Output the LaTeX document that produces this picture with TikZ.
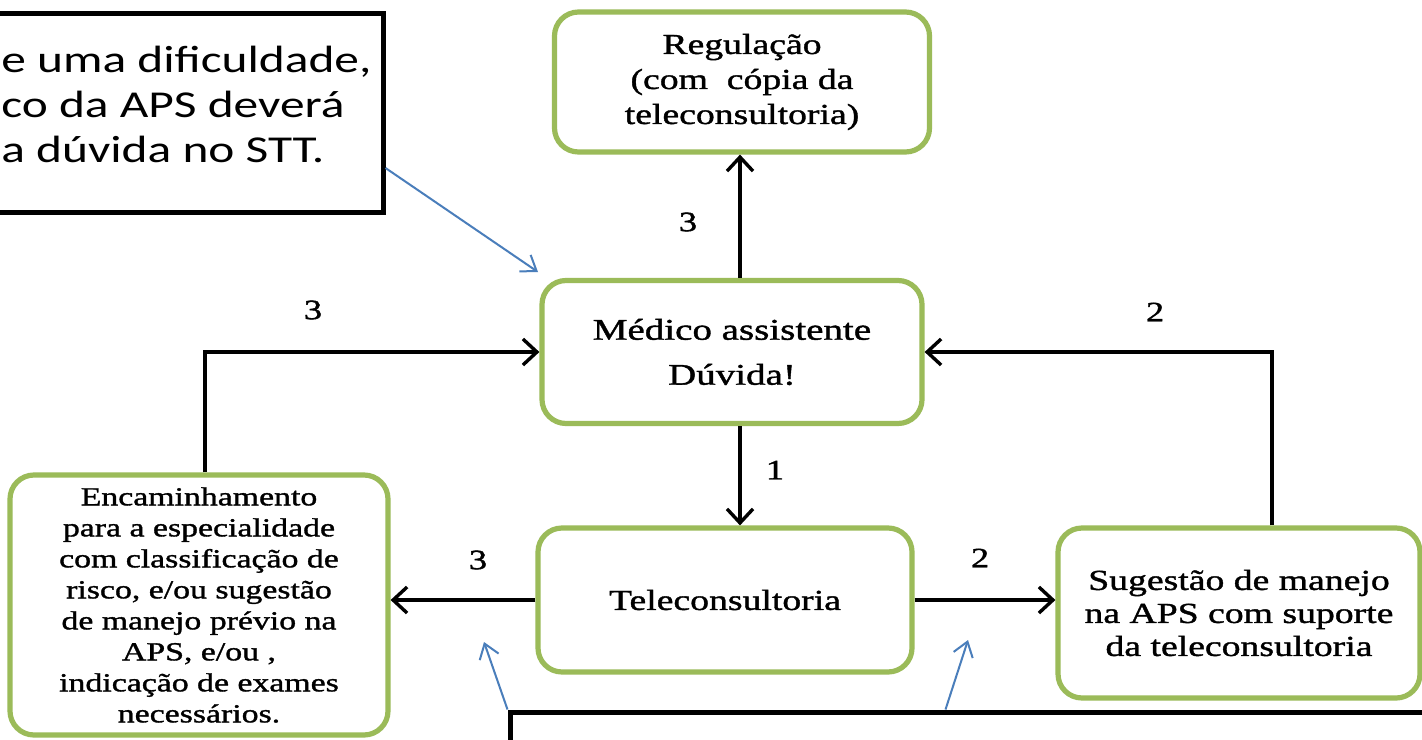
\documentclass[tikz,border=0pt]{standalone}
\usepackage{fontspec}
\setmainfont{Liberation Serif}[FakeStretch=1.3,FakeBold=1.3]
\newfontfamily\calfont{Carlito}[FakeStretch=1.3]
\usetikzlibrary{arrows.meta}
\definecolor{gborder}{HTML}{9BBB59}
\definecolor{bluearr}{HTML}{4A7EBB}
\begin{document}
\begin{tikzpicture}[x=0.5pt,y=-0.5pt,
  gbox/.style={draw=gborder, line width=2.6pt, rounded corners=12pt, align=center, inner sep=0pt, fill=white},
  callbox/.style={draw=black, line width=2.5pt, inner sep=0pt, fill=white},
  calltext/.style={align=left, inner sep=0pt, font=\calfont\fontsize{19pt}{22.5pt}\selectfont},
  arr/.style={draw=black, line width=1.7pt, -{Straight Barb[length=7pt,width=13pt]}},
  blarr/.style={draw=bluearr, line width=1pt, -{Straight Barb[length=7pt,width=10pt]}},
  lab/.style={inner sep=0pt, font=\fontsize{14pt}{16pt}\selectfont}]
\useasboundingbox (0,0) rectangle (1422,739);
\clip (0,0) rectangle (1422,739);
\fill[white] (0,0) rectangle (1422,739);

% top-left callout
\node[callbox, minimum width=211.5pt, minimum height=99.5pt] (c1) at (171.5,112.5) {};
\node[calltext, anchor=west] (c1t) at (1,104) {e uma dificuldade,\\co da APS deverá\\a dúvida no STT.};

% boxes
\node[gbox, minimum width=187.5pt, minimum height=70pt, font=\fontsize{14.5pt}{17.5pt}\selectfont] (reg) at (742,82) {Regulação\\(com~ cópia da\\teleconsultoria)};
\node[gbox, minimum width=190pt, minimum height=71.5pt, font=\fontsize{15pt}{22.5pt}\selectfont] (med) at (732,352) {Médico assistente\\Dúvida!};
\node[gbox, minimum width=187pt, minimum height=72pt, font=\fontsize{14.5pt}{17pt}\selectfont] (tel) at (725,600) {Teleconsultoria};
\node[gbox, minimum width=189pt, minimum height=130pt, font=\fontsize{13pt}{15.5pt}\selectfont] (enc) at (199,605) {Encaminhamento\\para a especialidade\\com classificação de\\risco, e/ou sugestão\\de manejo prévio na\\APS, e/ou ,\\indicação de exames\\necessários.};
\node[gbox, minimum width=181pt, minimum height=85pt, font=\fontsize{14.5pt}{16.5pt}\selectfont] (sug) at (1239,613) {Sugestão de manejo\\na APS com suporte\\da teleconsultoria};

% bottom callout
\node[callbox, minimum width=480pt, minimum height=60pt] (c2) at (990,772) {};

% connectors
\coordinate (cx) at (740,0);
\coordinate (cl) at (205,0);
\coordinate (cr) at (1272,0);
\draw[arr] (med.north -| cx) -- (reg.south -| cx);
\draw[arr] (med.south -| cx) -- (tel.north -| cx);
\draw[arr] (enc.north -| cl) |- (med.west);
\draw[arr] (sug.north -| cr) |- (med.east);
\draw[arr] (tel.west) -- (enc.east |- tel.west);
\draw[arr] (tel.east) -- (sug.west |- tel.east);

% labels
\node[lab] (l1) at (688,222) {3};
\node[lab] (l2) at (313,310) {3};
\node[lab] (l3) at (1155,312) {2};
\node[lab] (l4) at (775,470) {1};
\node[lab] (l5) at (478,560) {3};
\node[lab] (l6) at (980,558) {2};

% blue pointers
\coordinate (b1e) at (538,272);
\coordinate (b2e) at (484,642);
\coordinate (b3e) at (968,640);
\draw[blarr] ([yshift=-27.75pt]c1.east) -- (b1e);
\draw[blarr] (c2.north west) -- (b2e);
\draw[blarr] ([xshift=219pt]c2.north west) -- (b3e);
\end{tikzpicture}
\end{document}
